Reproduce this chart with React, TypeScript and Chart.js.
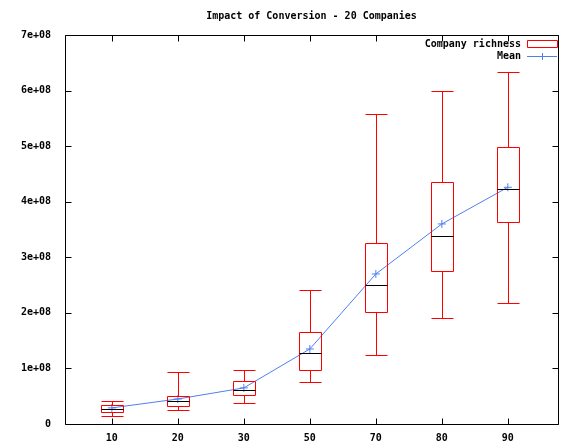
import { useEffect, useRef } from "react";
import Chart from "chart.js/auto";

const categories = ["10", "20", "30", "50", "70", "80", "90"];
const whiskerLow = [0.14e8, 0.25e8, 0.38e8, 0.76e8, 1.24e8, 1.91e8, 2.18e8];
const boxLow = [0.22e8, 0.32e8, 0.52e8, 0.97e8, 2.01e8, 2.75e8, 3.63e8];
const medians = [0.27e8, 0.41e8, 0.61e8, 1.28e8, 2.5e8, 3.38e8, 4.23e8];
const boxHigh = [0.34e8, 0.5e8, 0.77e8, 1.65e8, 3.26e8, 4.35e8, 4.98e8];
const whiskerHigh = [0.41e8, 0.94e8, 0.97e8, 2.41e8, 5.58e8, 5.99e8, 6.33e8];
const means = [0.29e8, 0.45e8, 0.65e8, 1.35e8, 2.7e8, 3.6e8, 4.26e8];

const RED = "#ff0000";
const BLUE = "#4f7ff0";
const FONT = "bold 10px 'DejaVu Sans Mono', monospace";

const boxPlugin = {
  id: "boxes",
  afterDatasetsDraw(chart: any) {
    const { ctx, scales, chartArea: a } = chart;
    const x = scales.x, y = scales.y;
    const half = 11;
    ctx.save();
    ctx.lineWidth = 1;
    categories.forEach((_, i) => {
      const cx = Math.round(x.getPixelForValue(i)) + 0.5;
      const wl = Math.round(y.getPixelForValue(whiskerLow[i])) + 0.5;
      const wh = Math.round(y.getPixelForValue(whiskerHigh[i])) + 0.5;
      const bl = Math.round(y.getPixelForValue(boxLow[i])) + 0.5;
      const bh = Math.round(y.getPixelForValue(boxHigh[i])) + 0.5;
      const md = Math.round(y.getPixelForValue(medians[i])) + 0.5;
      ctx.strokeStyle = RED;
      ctx.beginPath();
      ctx.moveTo(cx, wl); ctx.lineTo(cx, bl);
      ctx.moveTo(cx, bh); ctx.lineTo(cx, wh);
      ctx.moveTo(cx - half, wl); ctx.lineTo(cx + half, wl);
      ctx.moveTo(cx - half, wh); ctx.lineTo(cx + half, wh);
      ctx.moveTo(cx - half, bl); ctx.lineTo(cx + half, bl);
      ctx.moveTo(cx - half, bh); ctx.lineTo(cx + half, bh);
      ctx.moveTo(cx - half, bl); ctx.lineTo(cx - half, bh);
      ctx.moveTo(cx + half, bl); ctx.lineTo(cx + half, bh);
      ctx.stroke();
      ctx.strokeStyle = "#000";
      ctx.beginPath();
      ctx.moveTo(cx - half, md); ctx.lineTo(cx + half, md);
      ctx.stroke();
    });
    // border and ticks
    ctx.strokeStyle = "#000";
    ctx.beginPath();
    const L = Math.round(a.left) + 0.5, R = Math.round(a.right) + 0.5;
    const T = Math.round(a.top) + 0.5, B = Math.round(a.bottom) + 0.5;
    ctx.moveTo(L, T); ctx.lineTo(R, T); ctx.lineTo(R, B); ctx.lineTo(L, B); ctx.closePath();
    for (let v = 0; v <= 7e8; v += 1e8) {
      const py = Math.round(y.getPixelForValue(v)) + 0.5;
      ctx.moveTo(L, py); ctx.lineTo(L + 6, py);
      ctx.moveTo(R, py); ctx.lineTo(R - 6, py);
    }
    categories.forEach((_, i) => {
      const px = Math.round(x.getPixelForValue(i)) + 0.5;
      ctx.moveTo(px, B); ctx.lineTo(px, B - 6);
      ctx.moveTo(px, T); ctx.lineTo(px, T + 6);
    });
    ctx.stroke();
    // title
    ctx.fillStyle = "#000";
    ctx.font = FONT;
    ctx.textAlign = "center";
    ctx.textBaseline = "middle";
    ctx.fillText("Impact of Conversion - 20 Companies", (a.left + a.right) / 2, 16);
    // legend
    ctx.textAlign = "right";
    ctx.fillText("Company richness", 521, 44);
    ctx.fillText("Mean", 521, 56);
    ctx.strokeStyle = RED;
    ctx.beginPath();
    ctx.moveTo(527.5, 40.5); ctx.lineTo(557.5, 40.5); ctx.lineTo(557.5, 47.5); ctx.lineTo(527.5, 47.5); ctx.closePath();
    ctx.stroke();
    ctx.strokeStyle = BLUE;
    ctx.beginPath();
    ctx.moveTo(527, 56.5); ctx.lineTo(557, 56.5);
    ctx.moveTo(542.5, 53); ctx.lineTo(542.5, 60);
    ctx.stroke();
    ctx.restore();
  },
};

export default function App() {
  const ref = useRef<HTMLCanvasElement>(null);
  useEffect(() => {
    document.body.style.margin = "0";
    const chart = new Chart(ref.current!, {
      type: "line",
      data: {
        datasets: [{
          label: "Mean",
          data: means.map((m, i) => ({ x: i, y: m })),
          borderColor: BLUE,
          borderWidth: 1,
          pointStyle: "cross",
          pointRadius: 4,
          pointBorderColor: BLUE,
          pointBorderWidth: 1,
          tension: 0,
        }],
      },
      options: {
        animation: false,
        responsive: false,
        layout: { padding: { top: 35, right: 11, left: 0, bottom: 0 } },
        plugins: { legend: { display: false }, tooltip: { enabled: false } },
        scales: {
          x: {
            type: "linear",
            min: -0.71,
            max: 6.76,
            afterBuildTicks: (s: any) => { s.ticks = categories.map((_, i) => ({ value: i })); },
            afterFit: (s: any) => { s.height = 17; },
            grid: { display: false },
            border: { display: false },
            ticks: { color: "#000", font: { family: "'DejaVu Sans Mono', monospace", size: 10, weight: "bold" }, padding: 0, callback: (v: any) => categories[v] ?? "", maxRotation: 0 },
          },
          y: {
            min: 0,
            max: 7e8,
            afterFit: (s: any) => { s.width = 65; },
            grid: { display: false },
            border: { display: false },
            ticks: { stepSize: 1e8, color: "#000", font: { family: "'DejaVu Sans Mono', monospace", size: 10, weight: "bold" }, padding: 6, callback: (v: any) => (v === 0 ? "0" : `${v / 1e8}e+08`) },
          },
        },
      },
      plugins: [boxPlugin],
    });
    return () => chart.destroy();
  }, []);
  return <canvas ref={ref} width={569} height={441} style={{ display: "block" }} />;
}
